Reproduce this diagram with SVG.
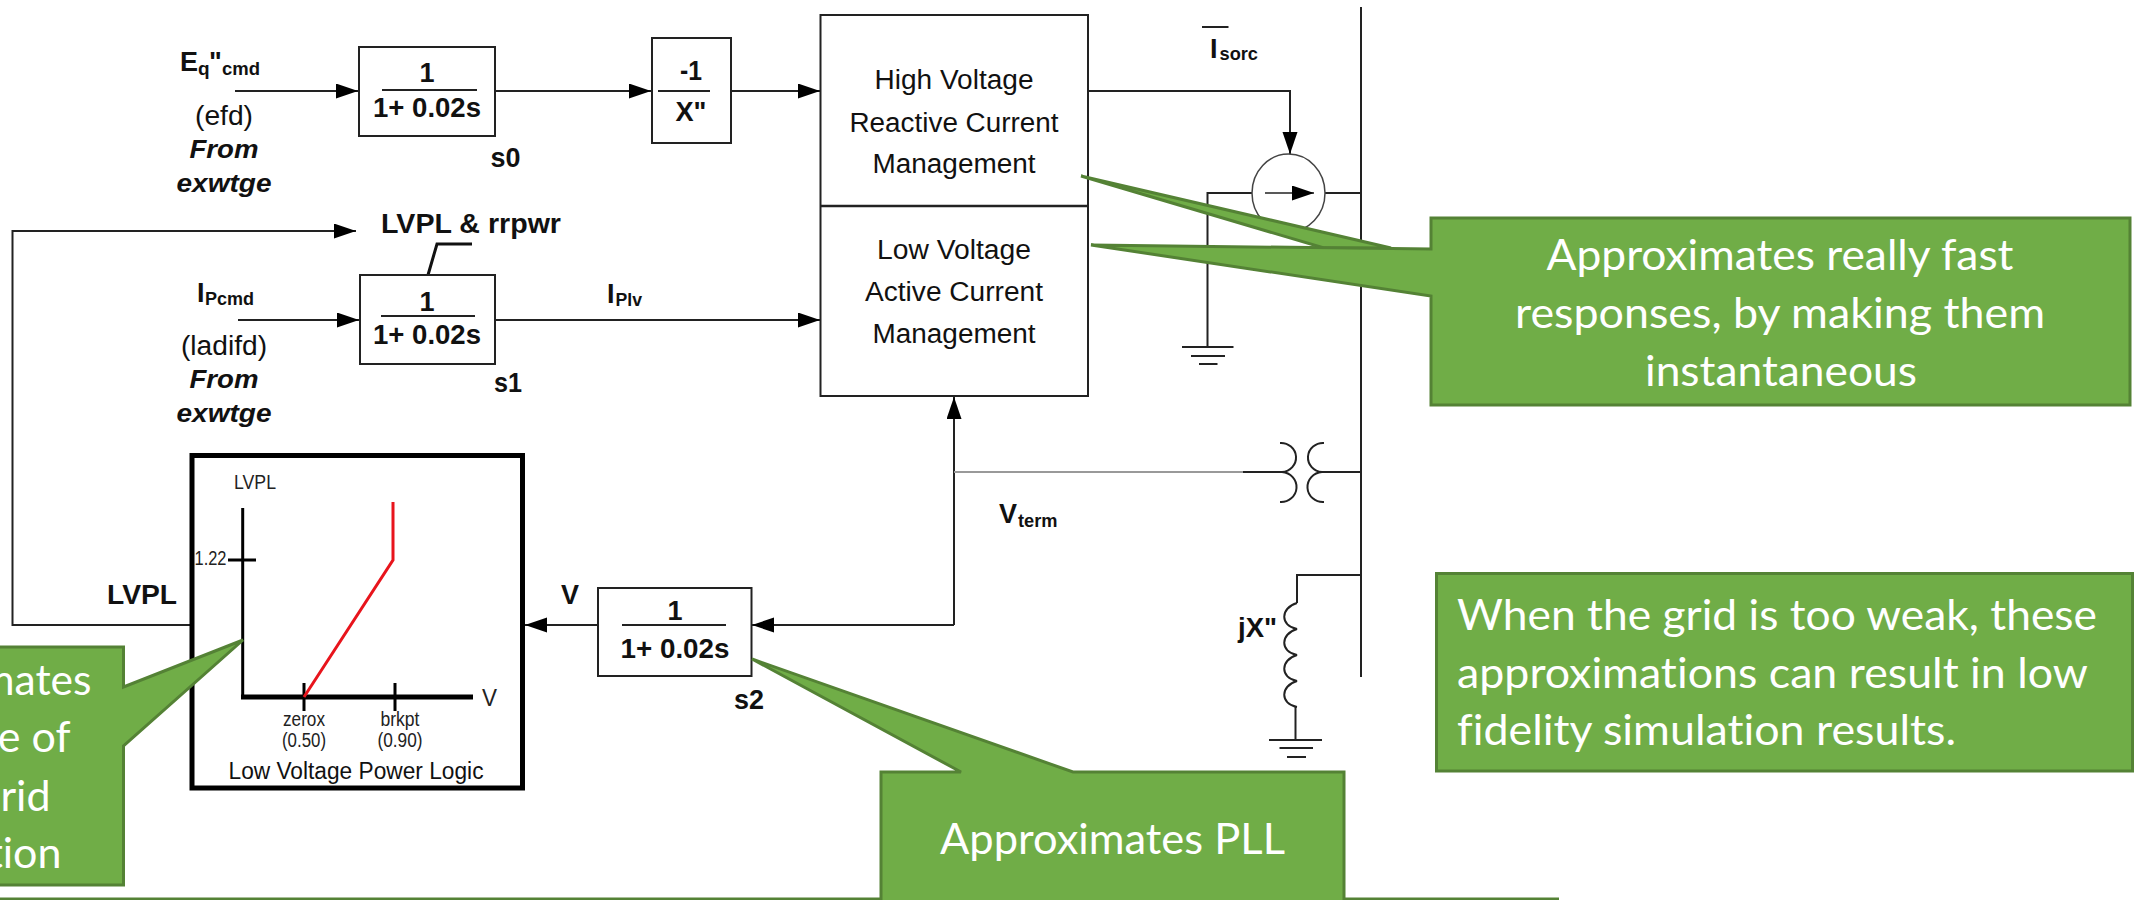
<svg xmlns="http://www.w3.org/2000/svg" width="2134" height="900" viewBox="0 0 2134 900">
<style>
text{font-family:"Liberation Sans",Arial,sans-serif;fill:#111;font-size:27px}
.b{font-weight:bold;font-size:27px}
.bi{font-weight:bold;font-style:italic;font-size:26px}
.sub{font-weight:bold;font-size:19px}
.sm{font-size:20px;fill:#222}
.m{text-anchor:middle}
.bl{fill:#fff;stroke:#222;stroke-width:2}
.w{fill:none;stroke:#222;stroke-width:2}
.f{fill:none;stroke:#222;stroke-width:2}
.axis{fill:none;stroke:#000;stroke-linecap:butt}
.call{fill:#70AD47;stroke:#548235;stroke-width:3}
.ct{font-family:Lato,"Noto Sans",sans-serif;fill:#fff;font-size:43px;font-variant-ligatures:none}
</style>
<defs>
<marker id="ah" markerUnits="userSpaceOnUse" markerWidth="23" markerHeight="16" refX="22" refY="7.5" orient="auto"><path d="M0 0L22 7.5L0 15z" fill="#000"/></marker>
</defs>
<rect width="2134" height="900" fill="#fff"/>
<g id="connectors">
<path class="w" d="M235 91H358" marker-end="url(#ah)"/>
<path class="w" d="M495 91H651" marker-end="url(#ah)"/>
<path class="w" d="M731 91H820" marker-end="url(#ah)"/>
<path class="w" d="M238 320H359" marker-end="url(#ah)"/>
<path class="w" d="M495 320H820" marker-end="url(#ah)"/>
<path class="w" d="M191 625H12.500V231H356" marker-end="url(#ah)"/>
<path class="w" d="M598 625H525" marker-end="url(#ah)"/>
<path class="w" d="M954 625H752" marker-end="url(#ah)"/>
<path class="w" d="M954 625V397" marker-end="url(#ah)"/>
<path d="M954 472H1243" fill="none" stroke="#999" stroke-width="2"/>
<path class="w" d="M1243 472H1282"/>
<path class="w" d="M1088 91H1290V154" marker-end="url(#ah)"/>
<path d="M428 275L437 244H472" fill="none" stroke="#111" stroke-width="3"/>
<path class="w" d="M1252 193H1207.500V347"/>
<path class="w" d="M1325 193H1361"/>
<path class="w" d="M1322 472H1361"/>
<path class="w" d="M1361 575H1297V603"/>
<path class="w" d="M1295.500 707V740"/>
</g>
<g id="bus"><path class="w" d="M1361 7V677"/></g>
<g id="s0">
<rect class="bl" x="359" y="47" width="136" height="89"/>
<path class="f" d="M382 90H477"/>
<text class="b m" x="427" y="82">1</text>
<text class="b m" x="427" y="117" textLength="108" lengthAdjust="spacingAndGlyphs">1+ 0.02s</text>
<text class="b" x="490.500" y="167" textLength="30" lengthAdjust="spacingAndGlyphs">s0</text>
</g>
<g id="gain">
<rect class="bl" x="652" y="38" width="79" height="105"/>
<path class="f" d="M658 91H710"/>
<text class="b m" x="691" y="80" textLength="22" lengthAdjust="spacingAndGlyphs">-1</text>
<text class="b m" x="691" y="121" textLength="31" lengthAdjust="spacingAndGlyphs">X"</text>
</g>
<g id="s1">
<rect class="bl" x="360" y="275" width="135" height="89"/>
<path class="f" d="M381 316H475"/>
<text class="b m" x="427" y="311">1</text>
<text class="b m" x="427" y="344" textLength="108" lengthAdjust="spacingAndGlyphs">1+ 0.02s</text>
<text class="b" x="494" y="392" textLength="28" lengthAdjust="spacingAndGlyphs">s1</text>
</g>
<g id="s2">
<rect class="bl" x="598" y="588" width="153.500" height="88"/>
<path class="f" d="M622 625H726"/>
<text class="b m" x="675" y="620">1</text>
<text class="b m" x="675" y="658" textLength="109" lengthAdjust="spacingAndGlyphs">1+ 0.02s</text>
<text class="b" x="734" y="709" textLength="30" lengthAdjust="spacingAndGlyphs">s2</text>
</g>
<g id="current-management">
<rect class="bl" x="820.500" y="15" width="267.500" height="381"/>
<path d="M820.500 206H1088" fill="none" stroke="#222" stroke-width="2.500"/>
<text class="m" x="954" y="89" textLength="159" lengthAdjust="spacingAndGlyphs">High Voltage</text>
<text class="m" x="954" y="132" textLength="209" lengthAdjust="spacingAndGlyphs">Reactive Current</text>
<text class="m" x="954" y="173" textLength="163" lengthAdjust="spacingAndGlyphs">Management</text>
<text class="m" x="954" y="259" textLength="154" lengthAdjust="spacingAndGlyphs">Low Voltage</text>
<text class="m" x="954" y="301" textLength="178" lengthAdjust="spacingAndGlyphs">Active Current</text>
<text class="m" x="954" y="343" textLength="163" lengthAdjust="spacingAndGlyphs">Management</text>
</g>
<g id="lvpl-logic">
<rect x="192" y="455.500" width="330.500" height="332.500" fill="#fff" stroke="#000" stroke-width="5"/>
<path class="axis" stroke-width="3" d="M242.700 508V697"/>
<path class="axis" stroke-width="5" d="M241 697H473"/>
<path class="axis" stroke-width="3" d="M228 560H256M304 683V711M395 683V711"/>
<path d="M304 697L393 560V502" fill="none" stroke="#e8141c" stroke-width="3"/>
<text class="sm" x="234" y="489" textLength="42" lengthAdjust="spacingAndGlyphs">LVPL</text>
<text class="sm" x="194.500" y="565" textLength="32" lengthAdjust="spacingAndGlyphs">1.22</text>
<text class="sm" x="482" y="706" textLength="15" lengthAdjust="spacingAndGlyphs" style="font-size:24px">V</text>
<text class="sm m" x="304" y="726" textLength="42" lengthAdjust="spacingAndGlyphs">zerox</text>
<text class="sm m" x="304" y="747" textLength="44" lengthAdjust="spacingAndGlyphs">(0.50)</text>
<text class="sm m" x="400" y="726" textLength="39" lengthAdjust="spacingAndGlyphs">brkpt</text>
<text class="sm m" x="400" y="747" textLength="45" lengthAdjust="spacingAndGlyphs">(0.90)</text>
<text class="m" x="356" y="779" style="font-size:23px" textLength="255" lengthAdjust="spacingAndGlyphs">Low Voltage Power Logic</text>
</g>
<g id="current-source">
<ellipse cx="1288.500" cy="193" rx="36.500" ry="39" fill="#fff" stroke="#444" stroke-width="1.500"/>
<path d="M1265 193H1314" fill="none" stroke="#222" stroke-width="1.500" marker-end="url(#ah)"/>
<path class="w" d="M1182 347H1233.500M1191 356H1225M1199 364H1217.500"/>
<path class="w" d="M1202 27H1228.500"/>
<text class="b" x="1210" y="58">I</text>
<text class="sub" x="1219.500" y="60" textLength="38.500" lengthAdjust="spacingAndGlyphs">sorc</text>
</g>
<g id="transformer">
<path class="w" d="M1280 443A15 14.500 0 0 1 1282 472A15 14.500 0 0 1 1280 502"/>
<path class="w" d="M1324 443A15 14.500 0 0 0 1322 472A15 14.500 0 0 0 1324 502"/>
</g>
<g id="inductor">
<path class="w" d="M1297 603C1280 608 1280 626 1297 629C1280 634 1280 652 1297 655C1280 660 1280 678 1297 681C1280 686 1280 704 1297 707"/>
<path class="w" d="M1269 740H1322M1279.500 748H1313M1287 757H1306"/>
<text class="b" x="1238" y="637" textLength="39" lengthAdjust="spacingAndGlyphs">jX"</text>
</g>
<g id="labels">
<text class="b" x="180" y="71">E</text>
<text class="sub" x="198" y="75">q</text>
<text class="b" x="209" y="71">"</text>
<text class="sub" x="222" y="75" textLength="38" lengthAdjust="spacingAndGlyphs">cmd</text>
<text class="m" x="224" y="125" textLength="58" lengthAdjust="spacingAndGlyphs">(efd)</text>
<text class="bi m" x="224" y="158" textLength="69" lengthAdjust="spacingAndGlyphs">From</text>
<text class="bi m" x="224" y="192" textLength="95" lengthAdjust="spacingAndGlyphs">exwtge</text>
<text class="b" x="381" y="233" textLength="180" lengthAdjust="spacingAndGlyphs">LVPL &amp; rrpwr</text>
<text class="b" x="197" y="302">I</text>
<text class="sub" x="205" y="305" textLength="49" lengthAdjust="spacingAndGlyphs">Pcmd</text>
<text class="m" x="224" y="355" textLength="86" lengthAdjust="spacingAndGlyphs">(ladifd)</text>
<text class="bi m" x="224" y="388" textLength="69" lengthAdjust="spacingAndGlyphs">From</text>
<text class="bi m" x="224" y="422" textLength="95" lengthAdjust="spacingAndGlyphs">exwtge</text>
<text class="b" x="607" y="303">I</text>
<text class="sub" x="615.500" y="306" textLength="26.500" lengthAdjust="spacingAndGlyphs">Plv</text>
<text class="b" x="107" y="604" textLength="70" lengthAdjust="spacingAndGlyphs">LVPL</text>
<text class="b" x="561" y="604" textLength="18" lengthAdjust="spacingAndGlyphs">V</text>
<text class="b" x="999" y="523">V</text>
<text class="sub" x="1018" y="527" textLength="39.500" lengthAdjust="spacingAndGlyphs">term</text>
</g>
<g id="callout-fast">
<path class="call" d="M1081 176L1391 248H1324z"/>
<path class="call" d="M1431 218H2130V405H1431V296L1091 245L1431 249z"/>
<text class="ct m" x="1780" y="270" textLength="467" lengthAdjust="spacingAndGlyphs">Approximates really fast</text>
<text class="ct m" x="1780" y="328" textLength="530" lengthAdjust="spacingAndGlyphs">responses, by making them</text>
<text class="ct m" x="1781" y="386" textLength="272" lengthAdjust="spacingAndGlyphs">instantaneous</text>
</g>
<g id="callout-weak">
<rect class="call" x="1436.500" y="573.500" width="696" height="197.500"/>
<text class="ct" x="1457" y="630" textLength="640" lengthAdjust="spacingAndGlyphs">When the grid is too weak, these</text>
<text class="ct" x="1457" y="688" textLength="631" lengthAdjust="spacingAndGlyphs">approximations can result in low</text>
<text class="ct" x="1457" y="745" textLength="499" lengthAdjust="spacingAndGlyphs">fidelity simulation results.</text>
</g>
<g id="callout-bottom">
<rect x="-10" y="897.500" width="1569" height="6" fill="#548235"/>
</g>
<g id="callout-pll">
<path class="call" d="M881 772H961L752 659L1073 772H1344V910H881z"/>
<text class="ct" x="940" y="854" textLength="345" lengthAdjust="spacingAndGlyphs">Approximates PLL</text>
</g>
<g id="callout-left">
<path class="call" d="M-10 647H123.500V687L243 640L123.500 746V885H-10z"/>
<text class="ct" x="91.500" y="695" text-anchor="end" textLength="112" lengthAdjust="spacingAndGlyphs">mates</text>
<text class="ct" x="70.500" y="752" text-anchor="end">e of</text>
<text class="ct" x="50.500" y="811" text-anchor="end">rid</text>
<text class="ct" x="61.500" y="868" text-anchor="end">tion</text>
</g>
</svg>
